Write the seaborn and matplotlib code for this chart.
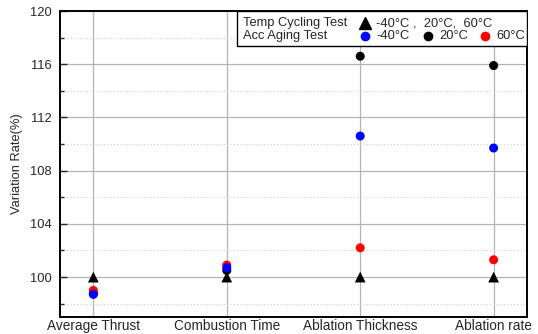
import matplotlib
matplotlib.use("Agg")
import matplotlib.pyplot as plt
import seaborn as sns
import pandas as pd
from matplotlib.patches import Rectangle
from matplotlib.ticker import MultipleLocator

categories = ["Average Thrust", "Combustion Time", "Ablation Thickness", "Ablation rate"]
temp_cycling = [100.0, 100.0, 100.0, 100.0]
aging_20 = [98.8, 100.5, 116.6, 115.9]
aging_60 = [99.0, 100.9, 102.2, 101.3]
aging_m40 = [98.7, 100.7, 110.6, 109.7]
y_ticks = [100, 104, 108, 112, 116, 120]

sns.set_theme(style="white")
plt.rcParams['font.family'] = ['Liberation Sans', 'DejaVu Sans']

fig = plt.figure(figsize=(5.38, 3.34), dpi=100)
ax = fig.add_axes([60/538, 17/334, 467/538, 306/334])

aging = pd.DataFrame({
    "cat": categories * 3,
    "x": list(range(len(categories))) * 3,
    "val": aging_20 + aging_60 + aging_m40,
    "temp": ["20°C"] * 4 + ["60°C"] * 4 + ["-40°C"] * 4,
})
sns.scatterplot(data=aging, x="x", y="val", hue="temp",
                palette={"20°C": "black", "60°C": "#ff0000", "-40°C": "#0000ff"},
                s=42, edgecolor="none", ax=ax, legend=False, zorder=3)
tc = pd.DataFrame({"x": list(range(len(categories))), "val": temp_cycling})
sns.scatterplot(data=tc, x="x", y="val", marker="^", color="black", s=60,
                edgecolor="none", ax=ax, legend=False, zorder=4)

ax.set_xlim(-0.25, 3.25)
ax.set_ylim(97, 120)
ax.set_xticks(range(len(categories)))
ax.set_xticklabels(categories, fontsize=9.8)
ax.set_yticks(y_ticks)
ax.set_yticklabels([str(t) for t in y_ticks], fontsize=9.3)
ax.yaxis.set_minor_locator(MultipleLocator(2))
ax.set_xlabel("")
ax.set_ylabel("Variation Rate(%)", fontsize=9.3, labelpad=5)

ax.grid(True, which="major", axis="both", color="#b4b4b4", linewidth=0.9, zorder=0)
ax.grid(True, which="minor", axis="y", color="#cccccc", linewidth=0.8, linestyle=(0, (1, 2)), zorder=0)
ax.set_axisbelow(True)
for s in ax.spines.values():
    s.set_color("black")
    s.set_linewidth(1.4)
ax.tick_params(axis="y", which="major", direction="in", length=5, width=1, left=True, pad=6)
ax.tick_params(axis="y", which="minor", direction="in", length=3, width=1, left=True)
ax.tick_params(axis="x", which="major", length=0, pad=1.5)

# Legend box (axes coordinates)
tr = ax.transAxes
def ax_xy(px, py):
    return ((px - 60) / 467, (317 - py) / 306)
x0, y0 = ax_xy(237, 46)
x1, y1 = ax_xy(527, 11)
ax.add_patch(Rectangle((x0, y0), x1 - x0, y1 - y0, transform=tr, facecolor="white",
                       edgecolor="black", linewidth=1.0, zorder=5))
fs = 9.3
r1 = ax_xy(0, 23)[1]
r2 = ax_xy(0, 36)[1]
ax.text(ax_xy(243, 0)[0], r1, "Temp Cycling Test", transform=tr, fontsize=fs, va="center", zorder=6)
ax.text(ax_xy(243, 0)[0], r2, "Acc Aging Test", transform=tr, fontsize=fs, va="center", zorder=6)
ax.plot([ax_xy(365, 0)[0]], [r1], marker="^", color="black", markersize=8, transform=tr, zorder=6, clip_on=False)
ax.text(ax_xy(376, 0)[0], r1, "-40°C ,  20°C,  60°C", transform=tr, fontsize=fs, va="center", zorder=6)
for px, col, lab in [(365, "#0000ff", "-40°C"), (428, "black", "20°C"), (485, "#ff0000", "60°C")]:
    ax.plot([ax_xy(px, 0)[0]], [r2], marker="o", color=col, markersize=7, markeredgewidth=0,
            transform=tr, zorder=6, clip_on=False)
    ax.text(ax_xy(px + 11, 0)[0], r2, lab, transform=tr, fontsize=fs, va="center", zorder=6)

fig.savefig("out.png", dpi=100)
